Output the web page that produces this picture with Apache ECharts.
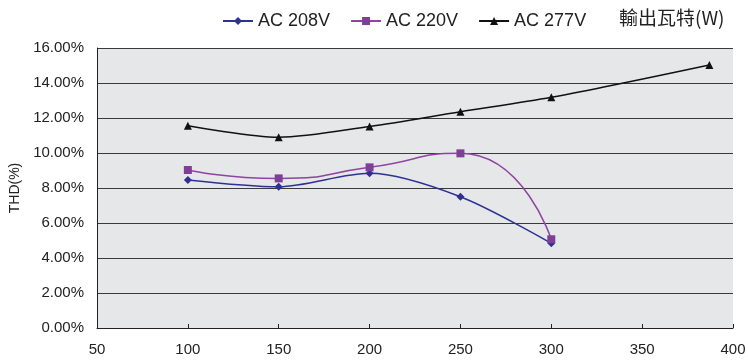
<!DOCTYPE html>
<html><head><meta charset="utf-8">
<script src="https://cdn.jsdelivr.net/npm/echarts@6/dist/echarts.min.js"></script>
<style>html,body{margin:0;padding:0;background:#fff}#c{width:748px;height:363px}</style>
</head><body><div id="c"></div>
<script>
const seriesNames = ['AC 208V', 'AC 220V', 'AC 277V'];
const xAc208 = [100, 150, 200, 250, 300];
const yAc208 = [8.46, 8.07, 8.84, 7.50, 4.84];
const xAc220 = [100, 150, 200, 250, 300];
const yAc220 = [9.03, 8.55, 9.18, 9.98, 5.07];
const xAc277 = [100, 150, 200, 250, 300, 387];
const yAc277 = [11.56, 10.90, 11.52, 12.36, 13.18, 15.03];
const xAxisName = '輸出瓦特(W)';
const yAxisName = 'THD(%)';

const pair = (xs, ys) => xs.map((x, i) => [x, ys[i]]);
const font = 'Liberation Sans, Arial, sans-serif';
const chart = echarts.init(document.getElementById('c'));
chart.setOption({
  animation: false,
  backgroundColor: '#fff',
  grid: { left: 97, right: 15, top: 48, bottom: 35, show: true, backgroundColor: '#e6e7e9', borderWidth: 0,
          containLabel: false, outerBoundsMode: 'none' },
  legend: {
    data: seriesNames, left: 217, top: 7, itemWidth: 30, itemHeight: 10, itemGap: 20,
    textStyle: { fontFamily: font, fontSize: 18, color: '#222' }
  },
  graphic: [{ type: 'text', left: 619, top: 8, style: { text: xAxisName, font: '19px "Noto Sans CJK TC", sans-serif', fill: '#222' } }],
  xAxis: {
    type: 'value', min: 50, max: 400, interval: 50,
    axisLine: { show: true, lineStyle: { color: '#222', width: 1 } },
    axisTick: { show: true, inside: true, length: 4, lineStyle: { color: '#222' } },
    axisLabel: { fontFamily: font, fontSize: 15, color: '#222', margin: 14 },
    splitLine: { show: false }
  },
  yAxis: {
    type: 'value', min: 0, max: 16, interval: 2,
    name: yAxisName, nameLocation: 'middle', nameGap: 75, nameRotate: 90,
    nameTextStyle: { fontFamily: font, fontSize: 14, color: '#222' },
    axisLine: { show: true, lineStyle: { color: '#222', width: 1 } },
    axisTick: { show: false },
    axisLabel: { fontFamily: font, fontSize: 15, color: '#222', margin: 13, formatter: v => v.toFixed(2) + '%' },
    splitLine: { show: true, lineStyle: { color: '#3a3a3a', width: 1 } }
  },
  series: [
    { name: seriesNames[0], type: 'line', data: pair(xAc208, yAc208), smooth: 0.3, symbol: 'diamond', symbolSize: 8,
      itemStyle: { color: '#2e3192' }, lineStyle: { color: '#2e3192', width: 1.5 } },
    { name: seriesNames[1], type: 'line', data: pair(xAc220, yAc220), smooth: 0.6, symbol: 'rect', symbolSize: 8,
      itemStyle: { color: '#7f3f98' }, lineStyle: { color: '#8e44a0', width: 1.5 } },
    { name: seriesNames[2], type: 'line', data: pair(xAc277, yAc277), smooth: 0.3, symbol: 'triangle', symbolSize: 8,
      itemStyle: { color: '#111' }, lineStyle: { color: '#111', width: 1.5 } }
  ]
});
</script></body></html>
